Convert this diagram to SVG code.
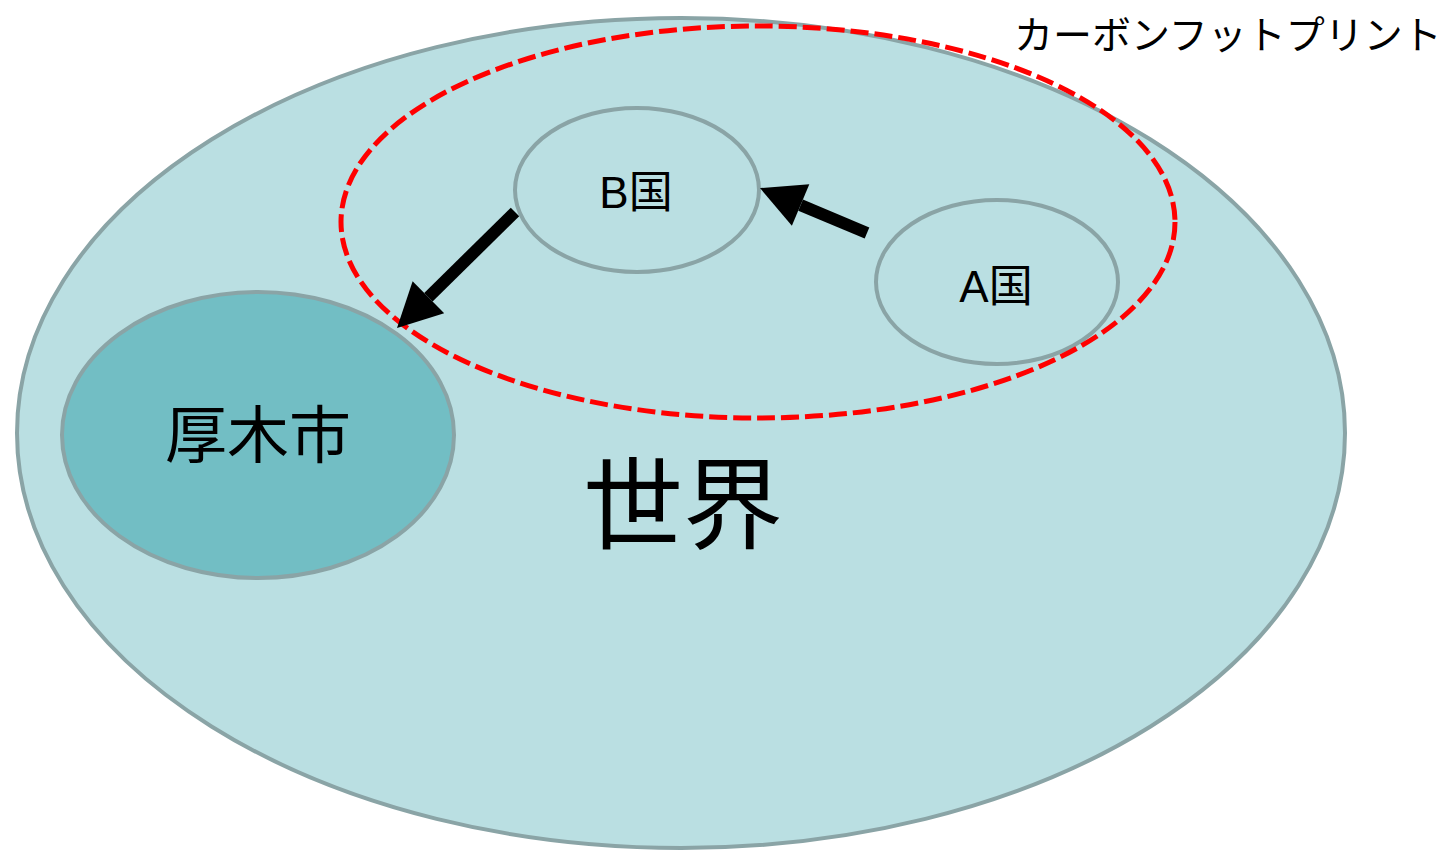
<svg xmlns="http://www.w3.org/2000/svg" width="1452" height="851" viewBox="0 0 1452 851">
<style>
.node{stroke:#8aa4a6;stroke-width:4}
.lbl{font-family:"Liberation Sans","Noto Sans CJK JP",sans-serif;fill:#000;text-anchor:middle}
.arr{stroke:#000;stroke-width:12;fill:none}
</style>
<defs>
<marker id="ah" markerUnits="strokeWidth" markerWidth="4" markerHeight="4" refX="0" refY="1.875" orient="auto" overflow="visible">
<path d="M0,0 L3.67,1.875 L0,3.75 z" fill="#000"/>
</marker>
</defs>
<rect width="1452" height="851" fill="#fff"/>
<g id="world">
<ellipse class="node" cx="681" cy="433" rx="664" ry="415" fill="#badfe2"/>
<text class="lbl" x="683" y="541" font-size="100">世界</text>
</g>
<g id="atsugi">
<ellipse class="node" cx="258" cy="435" rx="196" ry="143" fill="#72bec4"/>
<text class="lbl" x="258" y="458" font-size="62">厚木市</text>
</g>
<g id="countryB">
<ellipse class="node" cx="637" cy="190" rx="122" ry="82" fill="#badfe2"/>
<text class="lbl" x="636" y="208" font-size="44">B国</text>
</g>
<g id="countryA">
<ellipse class="node" cx="997" cy="282" rx="121" ry="82" fill="#badfe2"/>
<text class="lbl" x="996" y="302" font-size="44">A国</text>
</g>
<g id="footprint">
<ellipse cx="758" cy="222" rx="417" ry="196" fill="none" stroke="#ff0000" stroke-width="5" stroke-dasharray="18,6"/>
<text x="1014" y="49" font-family="'Noto Sans CJK JP',sans-serif" font-size="39" fill="#000">カーボンフットプリント</text>
</g>
<g id="connectors">
<line class="arr" x1="867" y1="233" x2="800.6" y2="205.1" marker-end="url(#ah)"/>
<line class="arr" x1="515" y1="212" x2="428.4" y2="297.2" marker-end="url(#ah)"/>
</g>
</svg>
